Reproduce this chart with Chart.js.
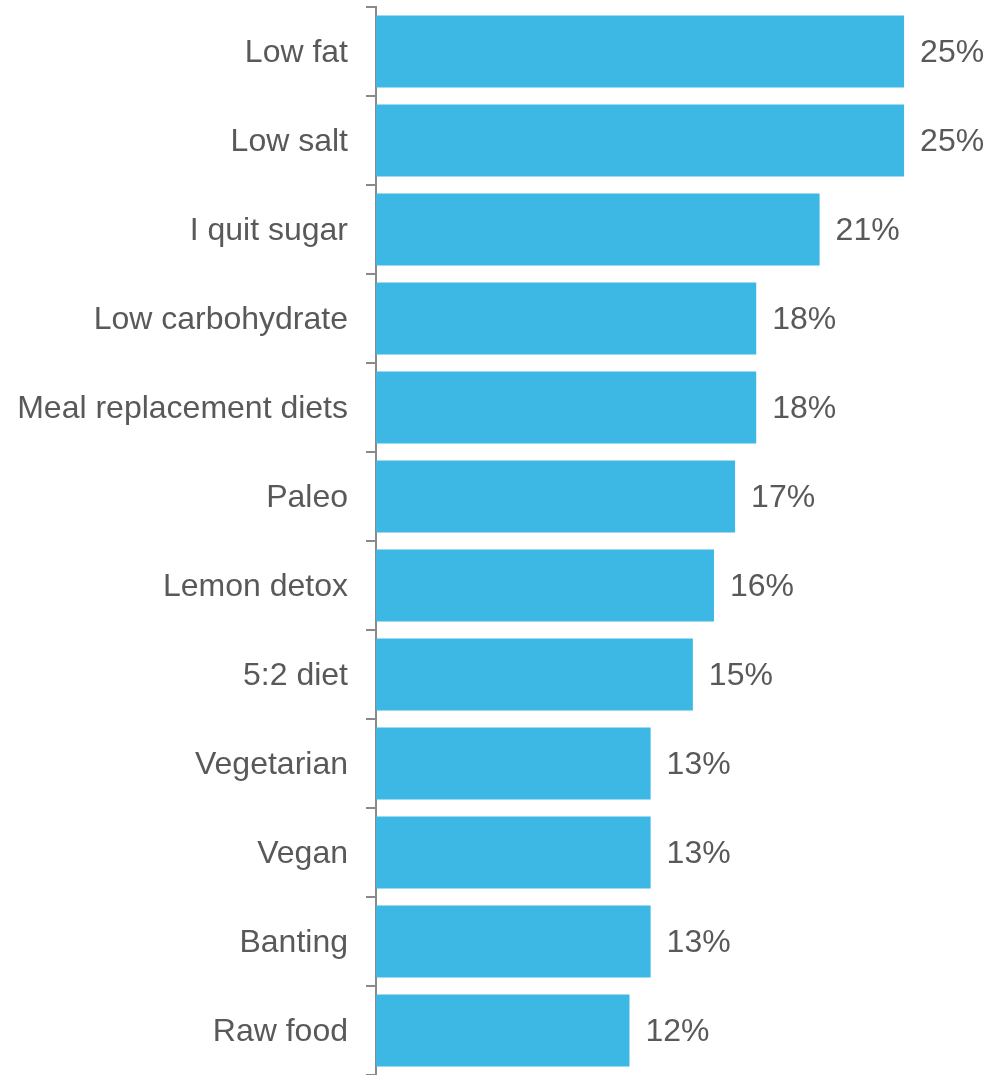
<!DOCTYPE html>
<html>
<head>
<meta charset="utf-8">
<style>
  html, body { margin: 0; padding: 0; background: #ffffff; }
  #wrap { width: 1004px; height: 1075px; position: relative; }
</style>
<script src="https://cdn.jsdelivr.net/npm/chart.js@4/dist/chart.umd.min.js"></script>
</head>
<body>
<div id="wrap"><canvas id="chart"></canvas></div>
<script>
// Diets tried, share of respondents (%)
const categories = [
  'Low fat', 'Low salt', 'I quit sugar', 'Low carbohydrate',
  'Meal replacement diets', 'Paleo', 'Lemon detox', '5:2 diet',
  'Vegetarian', 'Vegan', 'Banting', 'Raw food'
];
const shares = [25, 25, 21, 18, 18, 17, 16, 15, 13, 13, 13, 12];

const TEXT_COLOR = '#595959';
const BAR_COLOR = '#3db7e4';
const AXIS_COLOR = '#8a8a8a';
const FONT = 'Liberation Sans, Arial, sans-serif';

// Writes "NN%" just to the right of each bar end
const valueLabels = {
  id: 'valueLabels',
  afterDatasetsDraw(chart) {
    const ctx = chart.ctx;
    const meta = chart.getDatasetMeta(0);
    ctx.save();
    ctx.font = '32px ' + FONT;
    ctx.fillStyle = TEXT_COLOR;
    ctx.textAlign = 'left';
    ctx.textBaseline = 'middle';
    meta.data.forEach((bar, i) => {
      const { x, y } = bar.getProps(['x', 'y'], true);
      ctx.fillText(shares[i] + '%', x + 16, y + 2);
    });
    ctx.restore();
  }
};

new Chart(document.getElementById('chart'), {
  type: 'bar',
  data: {
    labels: categories,
    datasets: [{
      data: shares,
      backgroundColor: BAR_COLOR,
      borderWidth: 0,
      barPercentage: 0.81,
      categoryPercentage: 1.0
    }]
  },
  options: {
    indexAxis: 'y',
    responsive: true,
    maintainAspectRatio: false,
    animation: false,
    layout: { padding: { top: 7, bottom: 0, left: 0, right: 0 } },
    plugins: {
      legend: { display: false },
      tooltip: { enabled: false }
    },
    scales: {
      x: {
        display: false,
        min: 0,
        max: 29.73
      },
      y: {
        afterFit(scale) {
          scale.width = 376;
          // category labels sit inside their bands, no extra room needed above/below
          scale.paddingTop = 0;
          scale.paddingBottom = 0;
        },
        grid: {
          drawOnChartArea: false,
          drawTicks: true,
          tickLength: 10,
          color: AXIS_COLOR,
          lineWidth: 2,
          offset: true
        },
        border: { display: true, color: AXIS_COLOR, width: 2 },
        ticks: {
          color: TEXT_COLOR,
          padding: 18,
          labelOffset: 2,
          font: { family: FONT, size: 32 },
          autoSkip: false
        }
      }
    }
  },
  plugins: [valueLabels]
});
</script>
</body>
</html>
